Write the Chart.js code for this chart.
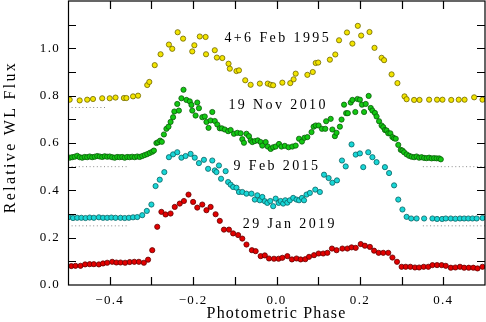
<!DOCTYPE html>
<html>
<head>
<meta charset="utf-8">
<script src="https://cdn.jsdelivr.net/npm/chart.js@4.4.1/dist/chart.umd.min.js"></script>
<style>
	body { margin: 0; background: #fff; }
	canvas { display: block; }
</style>
</head>
<body>
<canvas id="phaseChart" width="486" height="322"></canvas>
<script>
// light curves: phase and relative flux
const phase1995 = [-0.496, -0.472, -0.454, -0.440, -0.418, -0.400, -0.386, -0.366, -0.360, -0.344, -0.332, -0.310, -0.305, -0.292, -0.278, -0.258, -0.250, -0.237, -0.224, -0.202, -0.197, -0.184, -0.170, -0.169, -0.148, -0.143, -0.130, -0.115, -0.112, -0.096, -0.090, -0.075, -0.062, -0.040, -0.021, -0.014, -0.008, 0.014, 0.033, 0.041, 0.046, 0.074, 0.087, 0.094, 0.100, 0.128, 0.141, 0.150, 0.169, 0.182, 0.195, 0.203, 0.223, 0.235, 0.252, 0.258, 0.276, 0.290, 0.307, 0.312, 0.330, 0.343, 0.366, 0.385, 0.398, 0.419, 0.437, 0.451, 0.474, 0.494];
const flux1995 = [0.783, 0.780, 0.783, 0.786, 0.789, 0.789, 0.792, 0.790, 0.790, 0.797, 0.800, 0.845, 0.858, 0.929, 0.975, 1.016, 0.998, 1.068, 1.041, 0.987, 1.013, 1.050, 1.048, 0.975, 0.992, 0.961, 0.959, 0.935, 0.914, 0.904, 0.907, 0.865, 0.846, 0.851, 0.851, 0.846, 0.844, 0.855, 0.853, 0.869, 0.893, 0.888, 0.900, 0.938, 0.940, 0.952, 0.974, 1.034, 1.067, 1.020, 1.095, 1.054, 1.069, 1.002, 0.960, 0.950, 0.890, 0.853, 0.797, 0.785, 0.782, 0.782, 0.783, 0.783, 0.783, 0.782, 0.783, 0.783, 0.793, 0.783];

const phase2010 = [-0.496, -0.490, -0.484, -0.478, -0.472, -0.466, -0.460, -0.454, -0.448, -0.442, -0.436, -0.430, -0.424, -0.418, -0.412, -0.406, -0.400, -0.394, -0.388, -0.382, -0.376, -0.370, -0.364, -0.358, -0.352, -0.346, -0.340, -0.334, -0.328, -0.322, -0.316, -0.310, -0.304, -0.298, -0.294, -0.288, -0.284, -0.279, -0.275, -0.270, -0.264, -0.259, -0.254, -0.248, -0.245, -0.238, -0.234, -0.228, -0.223, -0.216, -0.208, -0.204, -0.202, -0.194, -0.190, -0.186, -0.178, -0.172, -0.168, -0.163, -0.158, -0.154, -0.148, -0.142, -0.136, -0.131, -0.124, -0.116, -0.110, -0.102, -0.094, -0.086, -0.082, -0.078, -0.072, -0.066, -0.062, -0.058, -0.052, -0.045, -0.038, -0.034, -0.026, -0.021, -0.014, -0.008, -0.002, 0.006, 0.012, 0.020, 0.029, 0.038, 0.046, 0.054, 0.061, 0.067, 0.074, 0.084, 0.089, 0.094, 0.101, 0.109, 0.117, 0.119, 0.130, 0.134, 0.140, 0.144, 0.152, 0.156, 0.162, 0.167, 0.171, 0.178, 0.182, 0.189, 0.194, 0.200, 0.205, 0.210, 0.214, 0.221, 0.226, 0.230, 0.236, 0.240, 0.246, 0.252, 0.256, 0.260, 0.264, 0.268, 0.273, 0.278, 0.282, 0.286, 0.292, 0.298, 0.302, 0.306, 0.312, 0.318, 0.324, 0.330, 0.336, 0.342, 0.348, 0.354, 0.360, 0.366, 0.372, 0.378, 0.384, 0.390, 0.394];
const flux2010 = [0.538, 0.540, 0.542, 0.546, 0.540, 0.538, 0.541, 0.540, 0.543, 0.540, 0.542, 0.545, 0.543, 0.541, 0.544, 0.542, 0.543, 0.540, 0.538, 0.541, 0.540, 0.541, 0.538, 0.541, 0.540, 0.542, 0.540, 0.543, 0.541, 0.545, 0.549, 0.553, 0.558, 0.563, 0.568, 0.600, 0.603, 0.610, 0.605, 0.636, 0.660, 0.669, 0.689, 0.709, 0.733, 0.765, 0.737, 0.789, 0.825, 0.782, 0.776, 0.761, 0.737, 0.716, 0.771, 0.747, 0.709, 0.712, 0.689, 0.664, 0.695, 0.731, 0.693, 0.678, 0.662, 0.662, 0.657, 0.650, 0.655, 0.639, 0.643, 0.641, 0.616, 0.601, 0.639, 0.629, 0.611, 0.604, 0.608, 0.611, 0.604, 0.589, 0.604, 0.585, 0.575, 0.582, 0.585, 0.596, 0.585, 0.588, 0.582, 0.585, 0.589, 0.618, 0.606, 0.622, 0.625, 0.646, 0.669, 0.674, 0.674, 0.660, 0.660, 0.692, 0.702, 0.657, 0.629, 0.643, 0.669, 0.699, 0.762, 0.726, 0.726, 0.771, 0.782, 0.731, 0.786, 0.783, 0.762, 0.731, 0.765, 0.799, 0.748, 0.737, 0.727, 0.712, 0.692, 0.674, 0.667, 0.655, 0.653, 0.641, 0.641, 0.625, 0.620, 0.618, 0.592, 0.571, 0.568, 0.561, 0.552, 0.546, 0.542, 0.540, 0.543, 0.538, 0.540, 0.537, 0.536, 0.538, 0.535, 0.536, 0.535, 0.535, 0.531];

const phase2015 = [-0.498, -0.488, -0.478, -0.468, -0.458, -0.448, -0.438, -0.426, -0.416, -0.406, -0.396, -0.386, -0.374, -0.364, -0.354, -0.344, -0.334, -0.322, -0.311, -0.300, -0.290, -0.280, -0.269, -0.258, -0.248, -0.238, -0.228, -0.218, -0.206, -0.196, -0.186, -0.174, -0.164, -0.154, -0.148, -0.144, -0.138, -0.133, -0.122, -0.116, -0.110, -0.104, -0.096, -0.090, -0.082, -0.072, -0.060, -0.052, -0.046, -0.040, -0.034, -0.028, -0.022, -0.015, -0.008, -0.002, 0.005, 0.010, 0.016, 0.021, 0.026, 0.032, 0.040, 0.048, 0.054, 0.061, 0.066, 0.072, 0.080, 0.093, 0.104, 0.114, 0.125, 0.134, 0.145, 0.157, 0.166, 0.180, 0.190, 0.200, 0.208, 0.220, 0.230, 0.240, 0.260, 0.270, 0.282, 0.292, 0.302, 0.312, 0.323, 0.336, 0.354, 0.374, 0.385, 0.397, 0.406, 0.418, 0.429, 0.440, 0.450, 0.460, 0.470, 0.480, 0.494];
const flux2015 = [0.287, 0.283, 0.284, 0.284, 0.283, 0.285, 0.284, 0.286, 0.284, 0.284, 0.285, 0.284, 0.284, 0.283, 0.284, 0.286, 0.287, 0.295, 0.313, 0.340, 0.418, 0.445, 0.477, 0.540, 0.552, 0.561, 0.538, 0.545, 0.554, 0.538, 0.515, 0.529, 0.491, 0.526, 0.484, 0.477, 0.505, 0.449, 0.481, 0.435, 0.424, 0.414, 0.411, 0.393, 0.393, 0.386, 0.386, 0.361, 0.379, 0.358, 0.372, 0.354, 0.347, 0.355, 0.333, 0.365, 0.347, 0.355, 0.344, 0.358, 0.348, 0.358, 0.368, 0.361, 0.358, 0.368, 0.358, 0.382, 0.389, 0.403, 0.393, 0.466, 0.452, 0.432, 0.442, 0.526, 0.501, 0.594, 0.551, 0.556, 0.498, 0.561, 0.540, 0.519, 0.498, 0.473, 0.421, 0.361, 0.319, 0.288, 0.281, 0.281, 0.281, 0.281, 0.279, 0.279, 0.281, 0.281, 0.280, 0.281, 0.281, 0.281, 0.281, 0.281, 0.283];

const phase2019 = [-0.492, -0.482, -0.470, -0.459, -0.448, -0.438, -0.426, -0.416, -0.406, -0.394, -0.384, -0.374, -0.363, -0.352, -0.341, -0.330, -0.318, -0.308, -0.298, -0.286, -0.276, -0.266, -0.254, -0.244, -0.232, -0.222, -0.211, -0.200, -0.190, -0.178, -0.168, -0.158, -0.146, -0.136, -0.126, -0.114, -0.104, -0.092, -0.082, -0.072, -0.059, -0.050, -0.038, -0.028, -0.018, -0.006, 0.005, 0.014, 0.026, 0.037, 0.048, 0.058, 0.069, 0.078, 0.090, 0.101, 0.112, 0.122, 0.133, 0.144, 0.158, 0.170, 0.180, 0.190, 0.202, 0.212, 0.224, 0.234, 0.245, 0.256, 0.268, 0.278, 0.289, 0.300, 0.310, 0.321, 0.332, 0.342, 0.353, 0.364, 0.374, 0.385, 0.396, 0.406, 0.418, 0.429, 0.440, 0.450, 0.461, 0.472, 0.482, 0.494];
const flux2019 = [0.080, 0.081, 0.081, 0.087, 0.088, 0.088, 0.087, 0.091, 0.094, 0.098, 0.095, 0.095, 0.094, 0.097, 0.098, 0.098, 0.094, 0.107, 0.147, 0.246, 0.309, 0.298, 0.302, 0.330, 0.344, 0.355, 0.382, 0.351, 0.327, 0.340, 0.316, 0.330, 0.299, 0.271, 0.234, 0.234, 0.218, 0.211, 0.196, 0.171, 0.147, 0.143, 0.122, 0.125, 0.112, 0.111, 0.111, 0.115, 0.122, 0.108, 0.112, 0.108, 0.109, 0.119, 0.126, 0.133, 0.133, 0.136, 0.154, 0.147, 0.154, 0.154, 0.159, 0.157, 0.173, 0.166, 0.161, 0.145, 0.136, 0.136, 0.136, 0.116, 0.098, 0.077, 0.077, 0.077, 0.074, 0.074, 0.077, 0.077, 0.084, 0.084, 0.084, 0.081, 0.073, 0.074, 0.077, 0.073, 0.073, 0.073, 0.070, 0.077];

// dotted reference levels (left and right stretches)
const baseLevels = [0.75, 0.5, 0.25];
const baseLeftEnd = [-0.408, -0.356, -0.356];
const baseRightStart = [null, 0.351, 0.351];

// labels and ticks
const seriesLabels = ["4+6 Feb 1995", "19 Nov 2010", "9 Feb 2015", "29 Jan 2019"];
const xTickLabels = [-0.4, -0.2, 0.0, 0.2, 0.4];
const yTickLabels = [0.0, 0.2, 0.4, 0.6, 0.8, 1.0];
const xTickMarks = [-0.4, -0.3, -0.2, -0.1, 0.0, 0.1, 0.2, 0.3, 0.4];
const yTickMarks = [0.1, 0.2, 0.3, 0.4, 0.5, 0.6, 0.7, 0.8, 0.9, 1.0, 1.1];

document.addEventListener("DOMContentLoaded", function () {
	const toPoints = (xs, ys) => xs.map((x, i) => ({ x: x, y: ys[i] }));
	const fmt = (v) => Number(v).toFixed(1).replace("-", "\u2212");
	const serif = "'Liberation Serif', 'DejaVu Serif', serif";

	const curve = (data, fill, edge) => ({
		data: data,
		showLine: false,
		pointRadius: 2.6,
		pointBorderWidth: 0.8,
		backgroundColor: fill,
		borderColor: edge,
	});

	// dotted levels built from the arrays above
	const dotted = [];
	baseLevels.forEach((lvl, i) => {
		dotted.push(toPoints([-0.5, baseLeftEnd[i]], [lvl, lvl]));
		if (baseRightStart[i] !== null) {
			dotted.push(toPoints([baseRightStart[i], 0.5], [lvl, lvl]));
		}
	});
	const dottedSets = dotted.map((d) => ({
		data: d,
		showLine: true,
		pointRadius: 0,
		borderColor: "#8c8c8c",
		borderWidth: 1,
		borderDash: [1, 2.6],
	}));

	// label anchors in data units (centre x, baseline y)
	const labelAt = [[0.003, 1.027], [0.004, 0.745], [0.001, 0.488], [0.032, 0.240]];

	const frameAndText = {
		id: "frameAndText",
		beforeDraw(chart) {
			chart.ctx.letterSpacing = "1.3px";
		},
		afterDraw(chart) {
			const { ctx, chartArea: a, scales } = chart;
			const xs = scales.x;
			const ys = scales.y;
			ctx.save();
			ctx.strokeStyle = "#000";
			ctx.lineWidth = 1.2;
			ctx.strokeRect(a.left + 0.5, a.top, a.right - a.left - 0.5, a.bottom - a.top);

			ctx.beginPath();
			xTickMarks.forEach((v) => {
				const px = Math.round(xs.getPixelForValue(v)) + 0.5;
				ctx.moveTo(px, a.bottom);
				ctx.lineTo(px, a.bottom - 8);
				ctx.moveTo(px, a.top);
				ctx.lineTo(px, a.top + 8);
			});
			yTickMarks.forEach((v) => {
				const py = Math.round(ys.getPixelForValue(v)) + 0.5;
				ctx.moveTo(a.left, py);
				ctx.lineTo(a.left + 8, py);
				ctx.moveTo(a.right, py);
				ctx.lineTo(a.right - 8, py);
			});
			ctx.stroke();

			ctx.fillStyle = "#000";
			ctx.textAlign = "center";
			ctx.textBaseline = "alphabetic";
			ctx.font = "14px " + serif;
			ctx.letterSpacing = "2.4px";
			seriesLabels.forEach((t, i) => {
				ctx.fillText(t, xs.getPixelForValue(labelAt[i][0]), ys.getPixelForValue(labelAt[i][1]));
			});

			// axis titles
			ctx.font = "16px " + serif;
			ctx.letterSpacing = "1.2px";
			ctx.fillText("Photometric Phase", (a.left + a.right) / 2, 318);

			ctx.letterSpacing = "2.3px";
			ctx.translate(15, 137);
			ctx.rotate(-Math.PI / 2);
			ctx.fillText("Relative WL Flux", 0, 0);
			ctx.restore();
		},
	};

	new Chart(document.getElementById("phaseChart"), {
		type: "scatter",
		data: {
			datasets: [
				...dottedSets,
				curve(toPoints(phase1995, flux1995), "#f2e400", "#6e6600"),
				curve(toPoints(phase2010, flux2010), "#12c812", "#0b5a0b"),
				curve(toPoints(phase2015, flux2015), "#18d6d6", "#0b6262"),
				curve(toPoints(phase2019, flux2019), "#e20000", "#640000"),
			],
		},
		options: {
			responsive: false,
			animation: false,
			layout: { autoPadding: false, padding: { top: 1, right: 1, left: 0, bottom: 0 } },
			plugins: { legend: { display: false }, tooltip: { enabled: false } },
			scales: {
				x: {
					type: "linear",
					min: -0.5,
					max: 0.5,
					grid: { display: false, drawTicks: false },
					border: { display: false },
					afterBuildTicks: (s) => {
						s.ticks = xTickLabels.map((v) => ({ value: v }));
					},
					afterFit: (s) => {
						s.height = 37;
						s.paddingLeft = 0;
						s.paddingRight = 0;
					},
					ticks: {
						padding: 8,
						color: "#000",
						maxRotation: 0,
						autoSkip: false,
						font: { family: serif, size: 13 },
						callback: (v) => fmt(v),
					},
				},
				y: {
					type: "linear",
					min: 0,
					max: 1.2,
					grid: { display: false, drawTicks: false },
					border: { display: false },
					afterBuildTicks: (s) => {
						s.ticks = yTickLabels.map((v) => ({ value: v }));
					},
					afterFit: (s) => {
						s.width = 68;
						s.paddingTop = 0;
						s.paddingBottom = 0;
					},
					ticks: {
						padding: 8,
						color: "#000",
						autoSkip: false,
						font: { family: serif, size: 13 },
						callback: (v) => fmt(v),
					},
				},
			},
		},
		plugins: [frameAndText],
	});
});
</script>
</body>
</html>
